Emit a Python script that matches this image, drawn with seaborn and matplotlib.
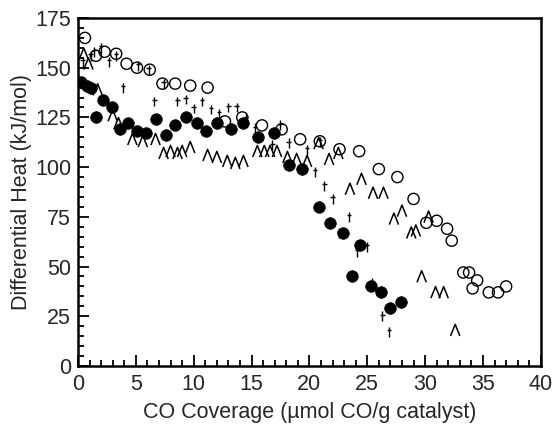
import numpy as np
import pandas as pd
import matplotlib
matplotlib.use("Agg")
import matplotlib.pyplot as plt
from matplotlib.path import Path
from matplotlib.ticker import MultipleLocator
import seaborn as sns

# --- data ---
open_circle_x = [0.6, 1.55, 2.3, 3.3, 4.2, 5.1, 6.2, 7.3, 8.4, 9.7, 11.2, 12.7, 14.2, 15.9, 17.6,
                 19.2, 20.9, 22.6, 24.3, 26.0, 27.6, 29.0, 30.1, 31.0, 31.9, 32.3, 33.3, 33.8,
                 34.5, 34.1, 35.5, 36.3, 37.0]
open_circle_y = [165, 156, 158, 157, 152, 150, 149, 142, 142, 141, 140, 123, 125, 121, 119,
                 114, 113, 109, 108, 99, 95, 84, 72, 73, 69, 63, 47, 47,
                 43, 39, 37, 37, 40]

filled_x = [0.26, 0.8, 1.1, 1.6, 2.2, 2.9, 3.6, 4.3, 5.1, 5.9, 6.7, 7.6, 8.4, 9.3, 10.3, 11.1,
            12.0, 13.2, 14.3, 15.6, 16.9, 18.2, 19.4, 20.8, 21.8, 22.9, 24.4, 23.7, 25.3, 26.2,
            27.0, 27.9]
filled_y = [143, 141, 140, 125, 134, 130, 119, 122, 118, 117, 124, 116, 121, 125, 122, 118,
            122, 119, 122, 115, 117, 101, 99, 80, 72, 67, 61, 45, 40, 37,
            29, 32]

tri_x = [0.5, 0.9, 1.7, 3.0, 3.5, 4.7, 5.6, 6.7, 7.4, 8.0, 8.6, 9.0, 9.7, 11.2, 12.0, 12.9,
         13.6, 14.3, 15.5, 16.1, 16.6, 17.2, 18.1, 18.9, 19.8, 20.8, 21.7, 22.5, 23.5, 24.5,
         25.5, 26.4, 27.3, 28.0, 28.8, 29.2, 30.3, 29.7, 30.9, 31.6, 32.6]
tri_y = [157, 152, 139, 126, 122, 114, 113, 114, 107, 108, 107, 108, 110, 106, 105, 103,
         102, 103, 108, 108, 108, 108, 105, 104, 103, 112, 104, 107, 89, 94,
         87, 87, 74, 78, 67, 68, 75, 45, 37, 37, 18]

plus_x = [0.4, 1.1, 1.4, 2.0, 2.7, 3.3, 3.9, 5.2, 6.1, 6.6, 7.4, 8.6, 9.3, 10.0, 10.7, 11.5,
          12.2, 13.0, 13.7, 14.5, 15.3, 16.8, 17.5, 18.2, 19.8, 20.9, 20.5, 21.3, 22.0, 23.4,
          22.6, 25.0, 24.1, 25.4, 26.3, 26.9]
plus_y = [153, 156, 158, 160, 153, 156, 140, 151, 149, 133, 142, 133, 134, 129.5, 133, 129,
          127, 130, 130, 124.5, 119.5, 111, 121, 112, 108.6, 112.8, 97.7, 90.5, 84, 75,
          67, 60, 57.5, 42, 25, 17]

x_ticks = [0, 5, 10, 15, 20, 25, 30, 35, 40]
y_ticks = [0, 25, 50, 75, 100, 125, 150, 175]
x_label = "CO Coverage (\u00b5mol CO/g catalyst)"
y_label = "Differential Heat (kJ/mol)"

# --- style ---
sns.set_theme(style="white")
plt.rcParams['font.family'] = ['Liberation Sans', 'DejaVu Sans']

fig = plt.figure(figsize=(5.57, 4.29), dpi=100)
ax = fig.add_axes([0.140, 0.147, 0.831, 0.811])

caret = Path([(-0.8, -1.0), (0.0, 1.0), (0.8, -1.0)],
             [Path.MOVETO, Path.LINETO, Path.LINETO])
dagger = Path([(0.0, -1.0), (0.0, 1.0), (-0.45, 0.35), (0.45, 0.35)],
              [Path.MOVETO, Path.LINETO, Path.MOVETO, Path.LINETO])

df_oc = pd.DataFrame({"x": open_circle_x, "y": open_circle_y})
df_fc = pd.DataFrame({"x": filled_x, "y": filled_y})
df_tr = pd.DataFrame({"x": tri_x, "y": tri_y})
df_pl = pd.DataFrame({"x": plus_x, "y": plus_y})

sns.scatterplot(data=df_tr, x="x", y="y", ax=ax, marker=caret, s=70,
                facecolors="none", edgecolor="black", color="black", linewidth=1.1, zorder=3)
sns.scatterplot(data=df_pl, x="x", y="y", ax=ax, marker=dagger, s=50,
                facecolors="none", edgecolor="black", color="black", linewidth=1.0, zorder=3)
sns.scatterplot(data=df_oc, x="x", y="y", ax=ax, marker="o", s=65,
                facecolors="none", edgecolor="black", linewidth=1.0, zorder=3)
sns.scatterplot(data=df_fc, x="x", y="y", ax=ax, marker="o", s=70,
                color="black", edgecolor="black", linewidth=0.5, zorder=4)

ax.set_xlim(0, 40)
ax.set_ylim(0, 175)
ax.set_xticks(x_ticks)
ax.set_yticks(y_ticks)
ax.xaxis.set_minor_locator(MultipleLocator(1))
ax.yaxis.set_minor_locator(MultipleLocator(5))
ax.tick_params(which="both", direction="in", top=False, right=False,
               bottom=True, left=True, color="black", width=1.3)
ax.tick_params(which="major", length=8, labelsize=15.5, pad=5)
ax.tick_params(axis="x", which="major", pad=6)
ax.tick_params(which="minor", length=4)
for sp in ax.spines.values():
    sp.set_linewidth(1.8)
    sp.set_color("black")
ax.set_xlabel(x_label, fontsize=15.5, labelpad=5)
ax.set_ylabel(y_label, fontsize=15.5, labelpad=2)

fig.savefig("out.png", dpi=100, facecolor="white")
